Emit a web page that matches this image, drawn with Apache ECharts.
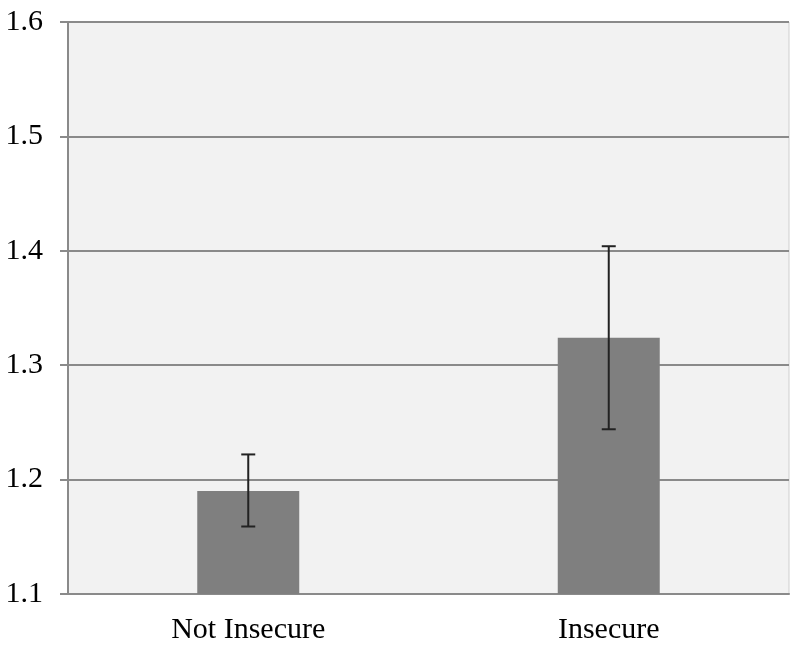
<!DOCTYPE html>
<html><head><meta charset="utf-8">
<script src="https://cdn.jsdelivr.net/npm/echarts@6/dist/echarts.min.js"></script>
<style>html,body{margin:0;padding:0;background:#fff}#c{width:800px;height:649px}</style>
</head><body><div id="c"></div>
<script>
const categories = ['Not Insecure', 'Insecure'];
const means = [1.190, 1.324];
const errLow = [1.159, 1.244];
const errHigh = [1.222, 1.404];
const yTicks = [1.1, 1.2, 1.3, 1.4, 1.5, 1.6];

const chart = echarts.init(document.getElementById('c'));
const font = '"Liberation Serif", "Times New Roman", serif';
chart.setOption({
  animation: false,
  grid: { left: 68, right: 11, top: 22, bottom: 55, show: true, backgroundColor: '#f2f2f2', borderColor: '#cfcfcf', borderWidth: 1 },
  xAxis: {
    type: 'category', data: categories,
    axisLine: { lineStyle: { color: '#8a8a8a', width: 2 } },
    axisTick: { show: false },
    axisLabel: { color: '#000', fontFamily: font, fontSize: 30, margin: 21 }
  },
  yAxis: {
    type: 'value', min: yTicks[0], max: yTicks[yTicks.length - 1], interval: 0.1,
    axisLine: { show: true, lineStyle: { color: '#8a8a8a', width: 2 } },
    axisTick: { show: true, length: 8, lineStyle: { color: '#8a8a8a', width: 2 } },
    splitLine: { lineStyle: { color: '#8a8a8a', width: 2 } },
    axisLabel: { color: '#000', fontFamily: font, fontSize: 30, margin: 25, formatter: v => v.toFixed(1) }
  },
  series: [
    { type: 'bar', data: means, barWidth: 102, itemStyle: { color: '#7f7f7f' }, z: 2 },
    {
      type: 'custom', z: 3,
      data: categories.map((c, i) => [i, errLow[i], errHigh[i]]),
      renderItem: function (params, api) {
        const lo = api.coord([api.value(0), api.value(1)]);
        const hi = api.coord([api.value(0), api.value(2)]);
        const w = 7;
        const st = { stroke: '#222', lineWidth: 2 };
        return { type: 'group', children: [
          { type: 'line', shape: { x1: hi[0], y1: hi[1], x2: lo[0], y2: lo[1] }, style: st },
          { type: 'line', shape: { x1: hi[0] - w, y1: hi[1], x2: hi[0] + w, y2: hi[1] }, style: st },
          { type: 'line', shape: { x1: lo[0] - w, y1: lo[1], x2: lo[0] + w, y2: lo[1] }, style: st }
        ]};
      }
    }
  ]
});
</script></body></html>
